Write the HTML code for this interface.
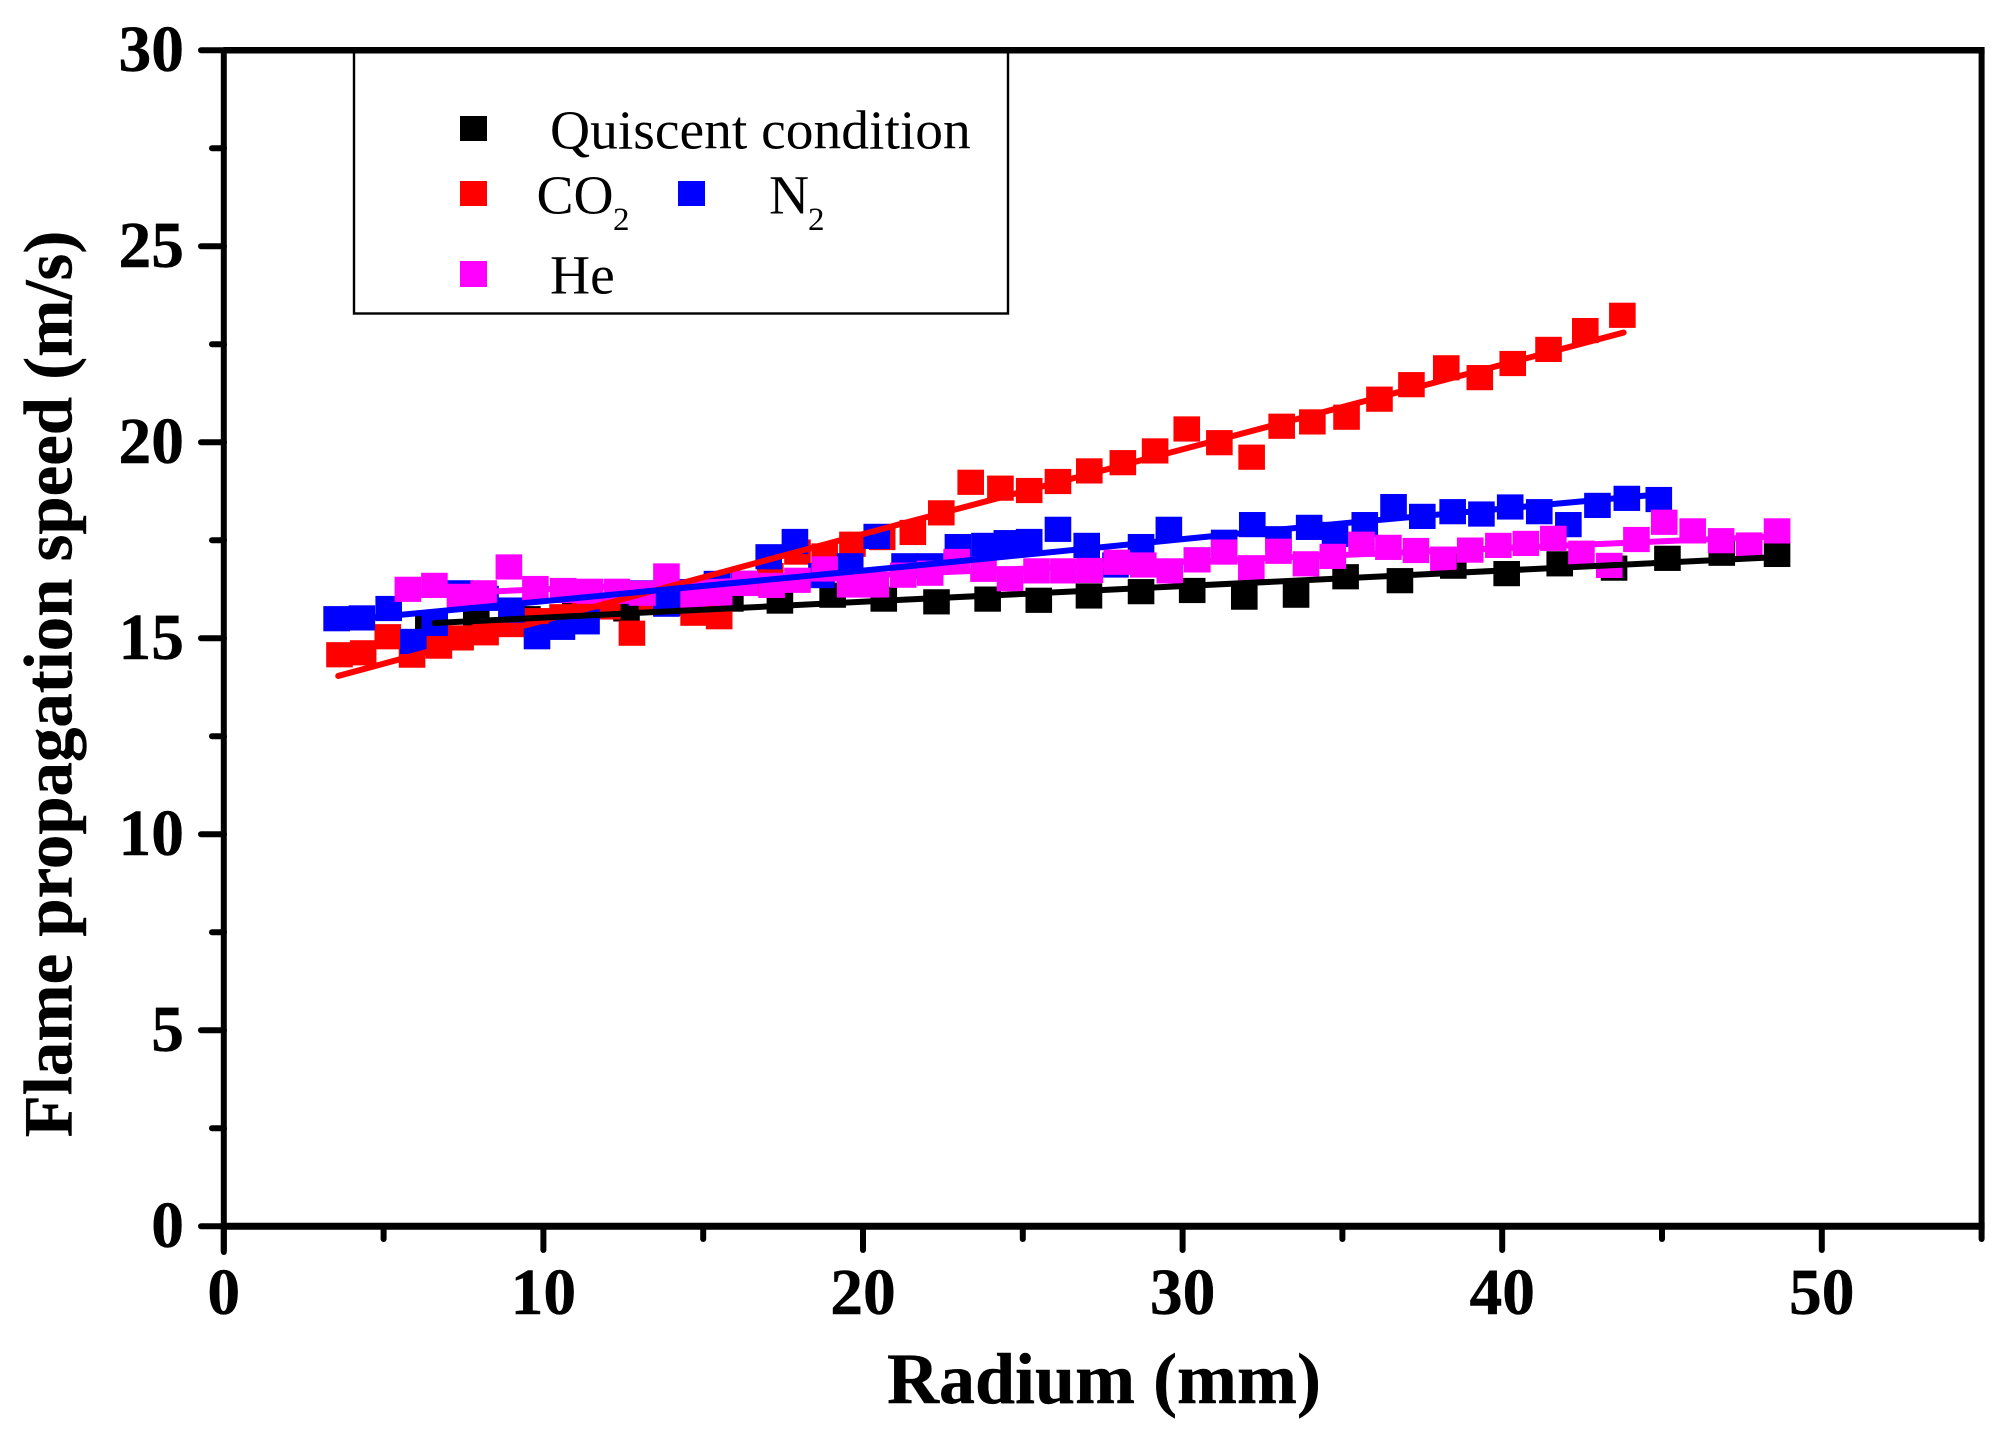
<!DOCTYPE html>
<html>
<head>
<meta charset="utf-8">
<title>Flame propagation speed vs radium</title>
<style>
html,body{margin:0;padding:0;background:#fff;}
svg{display:block;}
text{font-family:"Liberation Serif",serif;fill:#000;}
.tick{font-size:65.5px;font-weight:bold;stroke:#000;stroke-width:0.4px;}
.title{font-weight:bold;stroke:#000;stroke-width:0.4px;}
.leg{font-size:55.5px;}
.sub{font-size:33px;}
</style>
</head>
<body>
<svg id="chart" xmlns="http://www.w3.org/2000/svg" width="2016" height="1438" viewBox="0 0 2016 1438">
  <rect x="0" y="0" width="2016" height="1438" fill="#fff"/>
  <g id="ticks"></g>
  <g id="frame"></g>
  <g id="series"></g>
  <g id="labels"></g>
  <text class="title" x="1104" y="1403" font-size="72" text-anchor="middle">Radium (mm)</text>
  <text class="title" transform="translate(71.5,684) rotate(-90)" font-size="68.8" text-anchor="middle">Flame propagation speed (m/s)</text>
  <g>
    <rect x="354" y="50" width="654" height="263.5" fill="none" stroke="#000" stroke-width="2.4"/>
    <rect x="460" y="116" width="27" height="25" fill="#000"/>
    <text class="leg" x="550" y="148.3">Quiscent condition</text>
    <rect x="460" y="181" width="27" height="25" fill="#ff0000"/>
    <text class="leg" x="536.5" y="213.3">CO</text>
    <text class="sub" x="613" y="230">2</text>
    <rect x="678" y="181" width="27" height="25" fill="#0000ff"/>
    <text class="leg" x="769" y="213.3">N</text>
    <text class="sub" x="808" y="230">2</text>
    <rect x="460" y="261" width="27" height="26" fill="#ff00ff"/>
    <text class="leg" x="550" y="293.3">He</text>
  </g>
</svg>
<script>
var xTickLabels = [0, 10, 20, 30, 40, 50];
var xMinorTicks = [5, 15, 25, 35, 45, 55];
var yTickLabels = [0, 5, 10, 15, 20, 25, 30];
var yMinorTicks = [2.5, 7.5, 12.5, 17.5, 22.5, 27.5];

var quiescentX = [6.4,7.9,9.5,11,12.6,14.2,15.85,17.4,19.05,20.65,22.3,23.9,25.5,27.07,28.7,30.3,31.93,33.55,35.1,36.8,38.47,40.14,41.8,43.5,45.17,46.87,48.6];
var quiescentY = [15.3,15.4,15.5,15.65,15.75,15.9,16,15.95,16.1,16,15.93,16,15.97,16.08,16.19,16.22,16.05,16.1,16.57,16.47,16.84,16.65,16.9,16.79,17.04,17.17,17.14];
var quiescentFitX = [6.6,21.16,48.6];
var quiescentFitY = [15.39,15.98,17.07];

var co2X = [3.62,4.36,5.13,5.89,6.73,7.41,8.19,9,9.8,10.6,11.3,12,12.77,13.4,14.7,15.5,16.4,17.1,17.95,18.8,19.67,20.6,21.56,22.45,23.37,24.3,25.2,26.1,27.08,28.13,29.14,30.13,31.15,32.16,33.1,34.06,35.13,36.16,37.16,38.25,39.3,40.33,41.45,42.6,43.76];
var co2Y = [14.58,14.63,15.04,14.57,14.8,15.01,15.14,15.35,15.45,15.55,15.7,15.8,15.13,16,15.64,15.55,16.4,16.6,17.2,17.1,17.4,17.57,17.7,18.2,18.98,18.83,18.77,19,19.27,19.48,19.78,20.34,19.99,19.62,20.41,20.52,20.64,21.1,21.47,21.9,21.65,22.01,22.37,22.85,23.24];
var co2FitX = [3.58,21.1,43.8];
var co2FitY = [14.04,17.9,22.8];

var n2X = [3.53,4.32,5.16,5.93,6.6,7.41,8.19,9,9.8,10.58,11.35,13.05,13.85,14.65,15.43,16.27,17.05,17.87,18.7,19.6,20.43,21.3,22.1,22.97,23.8,24.5,25.2,26.1,27,27.9,28.7,29.57,30.45,31.3,32.18,33,33.96,34.77,35.7,36.6,37.5,38.45,39.35,40.25,41.16,42.07,42.98,43.9,44.9];
var n2Y = [15.5,15.52,15.76,14.92,15.38,16.16,16.02,15.72,15.04,15.28,15.42,16.16,15.87,16.19,16.4,16.4,17.08,17.47,16.6,16.85,17.6,16.85,16.85,17.34,17.37,17.44,17.47,17.78,17.37,16.87,17.34,17.78,17,17.45,17.9,17.54,17.83,17.65,17.9,18.36,18.11,18.23,18.17,18.35,18.23,17.9,18.39,18.57,18.54];
var n2FitX = [3.4,5.56,20.94,35.1,44.6];
var n2FitY = [15.44,15.6,16.8,17.94,18.65];

var heX = [5.76,6.59,7.39,8.13,8.92,9.75,10.62,11.45,12.3,13.1,13.85,14.7,15.5,16.3,17.14,17.95,18.8,19.6,20.4,21.26,22.1,22.93,23.77,24.6,25.43,26.27,27.1,27.94,28.77,29.6,30.46,31.3,32.15,33,33.86,34.7,35.6,36.44,37.3,38.16,39,39.88,40.74,41.6,42.48,43.35,44.2,45.07,45.96,46.85,47.73,48.6];
var heY = [16.25,16.35,16.07,16.16,16.82,16.27,16.22,16.2,16.2,16.15,16.59,16.1,16.15,16.4,16.35,16.48,16.77,16.36,16.36,16.61,16.66,16.96,16.76,16.52,16.72,16.72,16.73,16.94,16.87,16.72,17,17.2,16.8,17.22,16.9,17.09,17.4,17.32,17.24,17.02,17.25,17.37,17.42,17.55,17.17,16.86,17.52,17.96,17.74,17.49,17.38,17.74];
var heFitX = [5.7,48.6];
var heFitY = [16.1,17.6];

var SVGNS = 'http://www.w3.org/2000/svg';
function xScale(v){ return 223.8 + v * 31.96; }
function yScale(v){ return 1226.3 - v * 39.2; }
function mk(tag, parent){
  var el = document.createElementNS(SVGNS, tag);
  parent.appendChild(el);
  return el;
}
var ticksG = document.getElementById('ticks');
var frameG = document.getElementById('frame');
var labelsG = document.getElementById('labels');
var seriesG = document.getElementById('series');

function strokeLine(parent, x1, y1, x2, y2, w, cap){
  var l = mk('line', parent);
  l.setAttribute('x1', x1);
  l.setAttribute('y1', y1);
  l.setAttribute('x2', x2);
  l.setAttribute('y2', y2);
  l.setAttribute('stroke', '#000');
  l.setAttribute('stroke-width', w);
  l.setAttribute('stroke-linecap', cap);
  return l;
}

xTickLabels.forEach(function(v){
  var t = strokeLine(ticksG, xScale(v), 1226, xScale(v), 1250, 6, 'round');
  
  
  var s = mk('text', labelsG);
  
  
  s.setAttribute('class', 'tick');
  s.setAttribute('x', xScale(v));
  s.setAttribute('y', 1314);
  s.setAttribute('text-anchor', 'middle');
  s.textContent = v;
});
xMinorTicks.forEach(function(v){
  var t = strokeLine(ticksG, xScale(v), 1226, xScale(v), 1239, 6, 'round');
  
  
});
yTickLabels.forEach(function(v){
  var t = strokeLine(ticksG, 201, yScale(v), 224, yScale(v), 6, 'round');
  
  
  var s = mk('text', labelsG);
  
  
  s.setAttribute('class', 'tick');
  s.setAttribute('x', 184);
  s.setAttribute('y', yScale(v) + 20.5);
  s.setAttribute('text-anchor', 'end');
  s.textContent = v;
});
yMinorTicks.forEach(function(v){
  var t = strokeLine(ticksG, 212, yScale(v), 224, yScale(v), 6, 'round');
  
  
});

var axisLeft = strokeLine(frameG, xScale(0), yScale(30), xScale(0), 1252, 6, 'round');


var axisRight = strokeLine(frameG, xScale(55), yScale(30), xScale(55), 1226, 6, 'butt');


var axisTop = strokeLine(frameG, xScale(0), yScale(30), xScale(55) + 3, yScale(30), 6.5, 'butt');


var axisBottom = strokeLine(frameG, xScale(0), yScale(0), xScale(55) + 3, yScale(0), 7, 'butt');



var pointsLayer = mk('g', seriesG);


var fitsLayer = mk('g', seriesG);



function drawPoints(name, color, xs, ys){
  var g = mk('g', pointsLayer);
  
  
  xs.forEach(function(x, i){
    var r = mk('rect', g);
    
    
    r.setAttribute('x', xScale(x) - 13.3);
    r.setAttribute('y', yScale(ys[i]) - 12.6);
    r.setAttribute('width', 26.6);
    r.setAttribute('height', 25.2);
    r.setAttribute('fill', color);
  });
}
function drawFit(name, color, fx, fy){
  var p = mk('polyline', fitsLayer);
  
  
  p.setAttribute('points', fx.map(function(x, i){ return xScale(x) + ',' + yScale(fy[i]); }).join(' '));
  p.setAttribute('fill', 'none');
  p.setAttribute('stroke', color);
  p.setAttribute('stroke-width', 6);
  p.setAttribute('stroke-linecap', 'round');
  p.setAttribute('stroke-linejoin', 'round');
}
drawPoints('quiescent', '#000000', quiescentX, quiescentY);
drawPoints('co2', '#ff0000', co2X, co2Y);
drawPoints('n2', '#0000ff', n2X, n2Y);
drawPoints('he', '#ff00ff', heX, heY);
drawFit('he', '#ff00ff', heFitX, heFitY);
drawFit('co2', '#ff0000', co2FitX, co2FitY);
drawFit('n2', '#0000ff', n2FitX, n2FitY);
drawFit('quiescent', '#000000', quiescentFitX, quiescentFitY);
</script>
</body>
</html>
